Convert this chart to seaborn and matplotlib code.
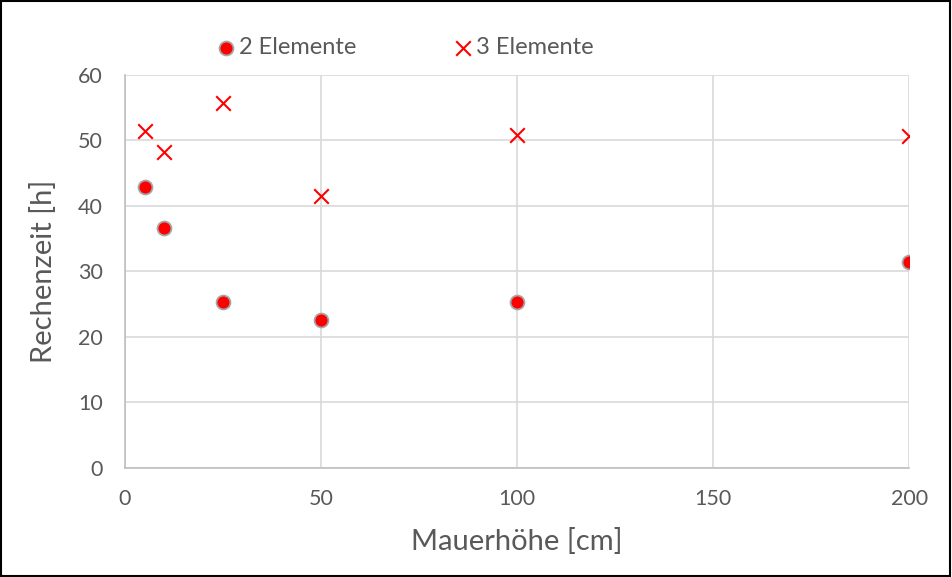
import matplotlib
matplotlib.use("Agg")
import matplotlib.pyplot as plt
import seaborn as sns
import pandas as pd
from matplotlib.patches import Rectangle

hoehe = [5, 10, 25, 50, 100, 200]
zeit_2 = [42.9, 36.6, 25.3, 22.6, 25.3, 31.5]
zeit_3 = [51.5, 48.2, 55.7, 41.5, 50.8, 50.7]

sns.set_theme(style="white")
plt.rcParams['font.family'] = ['Lato', 'DejaVu Sans']

df2 = pd.DataFrame({"x": hoehe, "y": zeit_2})
df3 = pd.DataFrame({"x": hoehe, "y": zeit_3})

fig = plt.figure(figsize=(9.52, 5.77), dpi=100)
ax = fig.add_axes([0.1313, 0.189, 0.8237, 0.681])

sns.scatterplot(data=df2, x="x", y="y", ax=ax, marker="o", s=100, color="#ff0000",
                edgecolor="#a6a6a6", linewidth=1.3, label="2 Elemente", zorder=3)
sns.scatterplot(data=df3, x="x", y="y", ax=ax, marker="x", s=110, color="#ff0000",
                linewidth=1.5, label="3 Elemente", zorder=3)

ax.set_xlim(0, 200)
ax.set_ylim(0, 60)
ax.set_xticks([0, 50, 100, 150, 200])
ax.set_yticks(range(0, 61, 10))
ax.grid(True, color="#d9d9d9", linewidth=1.2)
ax.set_axisbelow(True)
for s in ["top", "right"]:
    ax.spines[s].set_visible(False)
for s in ["left", "bottom"]:
    ax.spines[s].set_color("#bfbfbf")
    ax.spines[s].set_linewidth(1.2)
ax.tick_params(axis="both", length=0, labelsize=15.5, labelcolor="#595959")
ax.tick_params(axis="x", pad=15)
ax.tick_params(axis="y", pad=16)
ax.set_xlabel("Mauerhöhe [cm]", fontsize=21, color="#595959", labelpad=14)
ax.set_ylabel("Rechenzeit [h]", fontsize=21, color="#595959", labelpad=15)

ax.legend_.remove()
h, l = ax.get_legend_handles_labels()
fig.legend(h, l, loc="center", bbox_to_anchor=(0.424, 0.918), ncol=2, frameon=False,
           fontsize=17, labelcolor="#595959", handletextpad=0.05, columnspacing=4.0,
           handlelength=1.0)

fig.patches.append(Rectangle((0.001, 0.001), 0.997, 0.997, transform=fig.transFigure,
                             fill=False, edgecolor="black", linewidth=1.5))

fig.savefig("out.png", dpi=100)
